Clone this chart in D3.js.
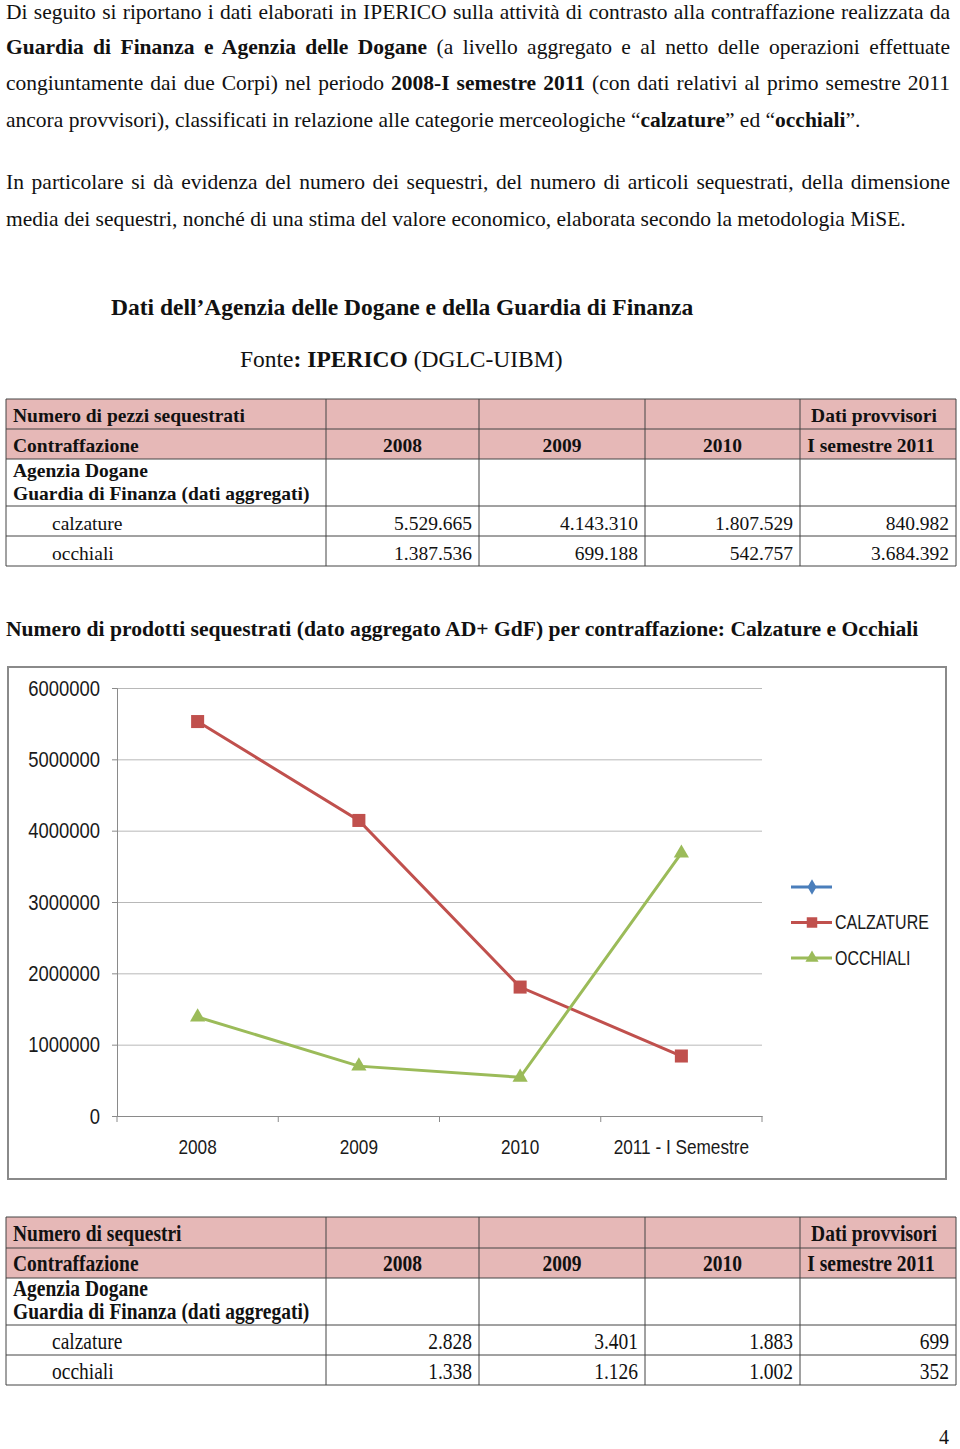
<!DOCTYPE html>
<html><head><meta charset="utf-8">
<script src="https://cdn.jsdelivr.net/npm/d3@7"></script>
<style>body{margin:0;background:#fff} svg{display:block}</style>
</head><body>
<script>
// ---------- DATA ----------
const categories = ["2008", "2009", "2010", "2011 - I Semestre"];
const calzature = [5529665, 4143310, 1807529, 840982];
const occhiali = [1387536, 699188, 542757, 3684392];
const yTicks = [0, 1000000, 2000000, 3000000, 4000000, 5000000, 6000000];
const legendLabels = ["", "CALZATURE", "OCCHIALI"];

const tableYears = ["2008", "2009", "2010", "I semestre 2011"];
const tableRowLabels = ["calzature", "occhiali"];
const pezziCalzature = [5529665, 4143310, 1807529, 840982];
const pezziOcchiali = [1387536, 699188, 542757, 3684392];
const sequestriCalzature = [2828, 3401, 1883, 699];
const sequestriOcchiali = [1338, 1126, 1002, 352];

// ---------- SETUP ----------
const W = 960, H = 1449;
const serif = "'Liberation Serif','Times New Roman',serif";
const sans = "'Liberation Sans',Arial,sans-serif";
const NARROW = 0.82;
const itFmt = d3.formatLocale({decimal: ",", thousands: ".", grouping: [3], currency: ["", ""]}).format(",d");

const svg = d3.select("body").append("svg").attr("width", W).attr("height", H);
svg.append("rect").attr("width", W).attr("height", H).attr("fill", "#fff");

// ---------- PARAGRAPHS ----------
function textLine(y, segs, justify, x = 6, size = 21.5) {
  const t = svg.append("text").attr("x", x).attr("y", y)
    .attr("font-family", serif).attr("font-size", size).attr("fill", "#111");
  segs.forEach(([s, b]) => t.append("tspan").attr("font-weight", b ? "bold" : "normal").text(s));
  if (justify) {
    const w = t.node().getComputedTextLength();
    const spaces = segs.map(d => d[0]).join("").split(" ").length - 1;
    if (spaces > 0) t.attr("word-spacing", (justify - w) / spaces);
  }
  return t;
}
const JW = 944;
textLine(19, [["Di seguito si riportano i dati elaborati in IPERICO sulla attività di contrasto alla contraffazione realizzata da", 0]], JW);
textLine(54, [["Guardia di Finanza e Agenzia delle Dogane", 1], [" (a livello aggregato e al netto delle operazioni effettuate", 0]], JW);
textLine(90, [["congiuntamente dai due Corpi) nel periodo ", 0], ["2008-I semestre 2011", 1], [" (con dati relativi al primo semestre 2011", 0]], JW);
textLine(127, [["ancora provvisori), classificati in relazione alle categorie merceologiche “", 0], ["calzature", 1], ["” ed “", 0], ["occhiali", 1], ["”.", 0]], null);
textLine(189, [["In particolare si dà evidenza del numero dei sequestri, del numero di articoli sequestrati, della dimensione", 0]], JW);
textLine(226, [["media dei sequestri, nonché di una  stima del valore economico, elaborata secondo la metodologia MiSE.", 0]], null);

textLine(315, [["Dati dell’Agenzia delle Dogane e della Guardia di Finanza", 1]], null, 111, 23.5);
textLine(367, [["Fonte", 0], [": IPERICO", 1], [" (DGLC-UIBM)", 0]], null, 240, 23.5);

textLine(636, [["Numero di prodotti sequestrati (dato aggregato AD+ GdF) per contraffazione: Calzature e Occhiali", 1]], null, 6, 21.6);

// ---------- TABLES ----------
const colX = [6, 326, 479, 645, 800, 956];
function drawTable(rowTops, title, vals1, vals2, vscale) {
  const g = svg.append("g");
  const tsize = 19.5;
  g.append("rect").attr("x", colX[0]).attr("y", rowTops[0]).attr("width", colX[5] - colX[0])
    .attr("height", rowTops[2] - rowTops[0]).attr("fill", "#e6b8b7");
  rowTops.forEach(y => g.append("line").attr("x1", colX[0]).attr("x2", colX[5]).attr("y1", y).attr("y2", y)
    .attr("stroke", "#444").attr("stroke-width", 1));
  colX.forEach(x => g.append("line").attr("x1", x).attr("x2", x).attr("y1", rowTops[0]).attr("y2", rowTops[5])
    .attr("stroke", "#444").attr("stroke-width", 1));
  function txt(x, y, s, bold, anchor) {
    g.append("text").attr("transform", `translate(${x},${y}) scale(1,${vscale})`)
      .attr("font-family", serif).attr("font-size", tsize).attr("font-weight", bold ? "bold" : "normal")
      .attr("text-anchor", anchor || "start").attr("fill", "#111").text(s);
  }
  const b = i => rowTops[i + 1] - 7;
  txt(13, b(0), title, 1);
  txt(874, b(0), "Dati provvisori", 1, "middle");
  txt(13, b(1), "Contraffazione", 1);
  tableYears.forEach((yr, i) => txt(i < 3 ? (colX[i + 1] + colX[i + 2]) / 2 : 871, b(1), yr, 1, "middle"));
  txt(13, rowTops[2] + 18, "Agenzia Dogane", 1);
  txt(13, b(2) + 1, "Guardia di Finanza (dati aggregati)", 1);
  [vals1, vals2].forEach((vals, r) => {
    txt(52, b(3 + r) + 1, tableRowLabels[r], 0);
    vals.forEach((v, i) => txt(colX[i + 2] - 7, b(3 + r) + 1, itFmt(v), 0, "end"));
  });
}
drawTable([399, 429, 459, 506, 536, 566], "Numero di pezzi sequestrati", pezziCalzature, pezziOcchiali, 1);
drawTable([1217, 1248, 1278, 1325, 1355, 1385], "Numero di sequestri", sequestriCalzature, sequestriOcchiali, 1.15);

// ---------- CHART ----------
svg.append("rect").attr("x", 8).attr("y", 667).attr("width", 938).attr("height", 512)
  .attr("fill", "#fff").attr("stroke", "#8a8a8a").attr("stroke-width", 2);

const x0 = 117, x1 = 762;
const xb = d3.scaleBand().domain(categories).range([x0, x1]);
const x = d3.scalePoint().domain(categories).range([x0, x1]).padding(0.5);
const y = d3.scaleLinear().domain([0, 6000000]).range([1116, 688]);

// gridlines
svg.append("g").attr("transform", `translate(${x0},0)`)
  .call(d3.axisLeft(y).tickValues(yTicks).tickSize(-(x1 - x0)).tickFormat(""))
  .call(g => g.select(".domain").remove())
  .call(g => g.selectAll("line").attr("stroke", "#b8b8b8").attr("stroke-width", 1));

// y axis
svg.append("g").attr("transform", `translate(${x0},0)`)
  .call(d3.axisLeft(y).tickValues(yTicks).tickSize(5).tickFormat(d3.format("d")))
  .call(g => g.select(".domain").attr("stroke", "#8a8a8a"))
  .call(g => g.selectAll("line").attr("stroke", "#8a8a8a"))
  .call(g => g.selectAll("text").attr("x", null).attr("transform", `translate(-17,0) scale(${NARROW},1)`)
    .attr("font-family", sans).attr("font-size", 22.5).attr("fill", "#1a1a1a"));

// x axis
svg.append("g").attr("transform", `translate(0,${y(0)})`)
  .call(d3.axisBottom(xb).tickSize(0).tickPadding(23))
  .call(g => g.select(".domain").attr("stroke", "#8a8a8a"))
  .call(g => g.selectAll("text").attr("transform", `scale(${NARROW},1)`)
    .attr("font-family", sans).attr("font-size", 21).attr("fill", "#1a1a1a"));
const bounds = categories.map(c => xb(c)).concat([x1]);
svg.append("g").selectAll("line").data(bounds).join("line")
  .attr("x1", d => d).attr("x2", d => d).attr("y1", y(0)).attr("y2", y(0) + 6)
  .attr("stroke", "#8a8a8a");

const red = "#c0504d", green = "#9bbb59", blue = "#4a7ebb";
const line = d3.line().x((d, i) => x(categories[i])).y(d => y(d));
const series = [
  {vals: calzature, color: red, sym: d3.symbolSquare, size: 170},
  {vals: occhiali, color: green, sym: d3.symbolTriangle, size: 100}
];
series.forEach(s => {
  svg.append("path").datum(s.vals).attr("d", line).attr("fill", "none")
    .attr("stroke", s.color).attr("stroke-width", 3);
  svg.append("g").selectAll("path").data(s.vals).join("path")
    .attr("transform", (d, i) => `translate(${x(categories[i])},${y(d)})`)
    .attr("d", d3.symbol(s.sym, s.size)).attr("fill", s.color);
});

// legend
const legendItems = [
  {label: legendLabels[0], color: blue, sym: d3.symbolDiamond, size: 70},
  {label: legendLabels[1], color: red, sym: d3.symbolSquare, size: 110},
  {label: legendLabels[2], color: green, sym: d3.symbolTriangle, size: 75}
];
const lg = svg.append("g");
legendItems.forEach((it, i) => {
  const ly = 887 + i * 35.5;
  lg.append("line").attr("x1", 791).attr("x2", 832).attr("y1", ly).attr("y2", ly)
    .attr("stroke", it.color).attr("stroke-width", 3);
  lg.append("path").attr("transform", `translate(812,${ly})`).attr("d", d3.symbol(it.sym, it.size)).attr("fill", it.color);
  lg.append("text").attr("transform", `translate(835,${ly}) scale(${NARROW},1)`).attr("dy", "0.35em")
    .attr("font-family", sans).attr("font-size", 19.5).attr("fill", "#1a1a1a").text(it.label);
});

// page number
svg.append("text").attr("x", 949).attr("y", 1444).attr("text-anchor", "end")
  .attr("font-family", serif).attr("font-size", 20).attr("fill", "#111").text("4");
</script>
</body></html>
